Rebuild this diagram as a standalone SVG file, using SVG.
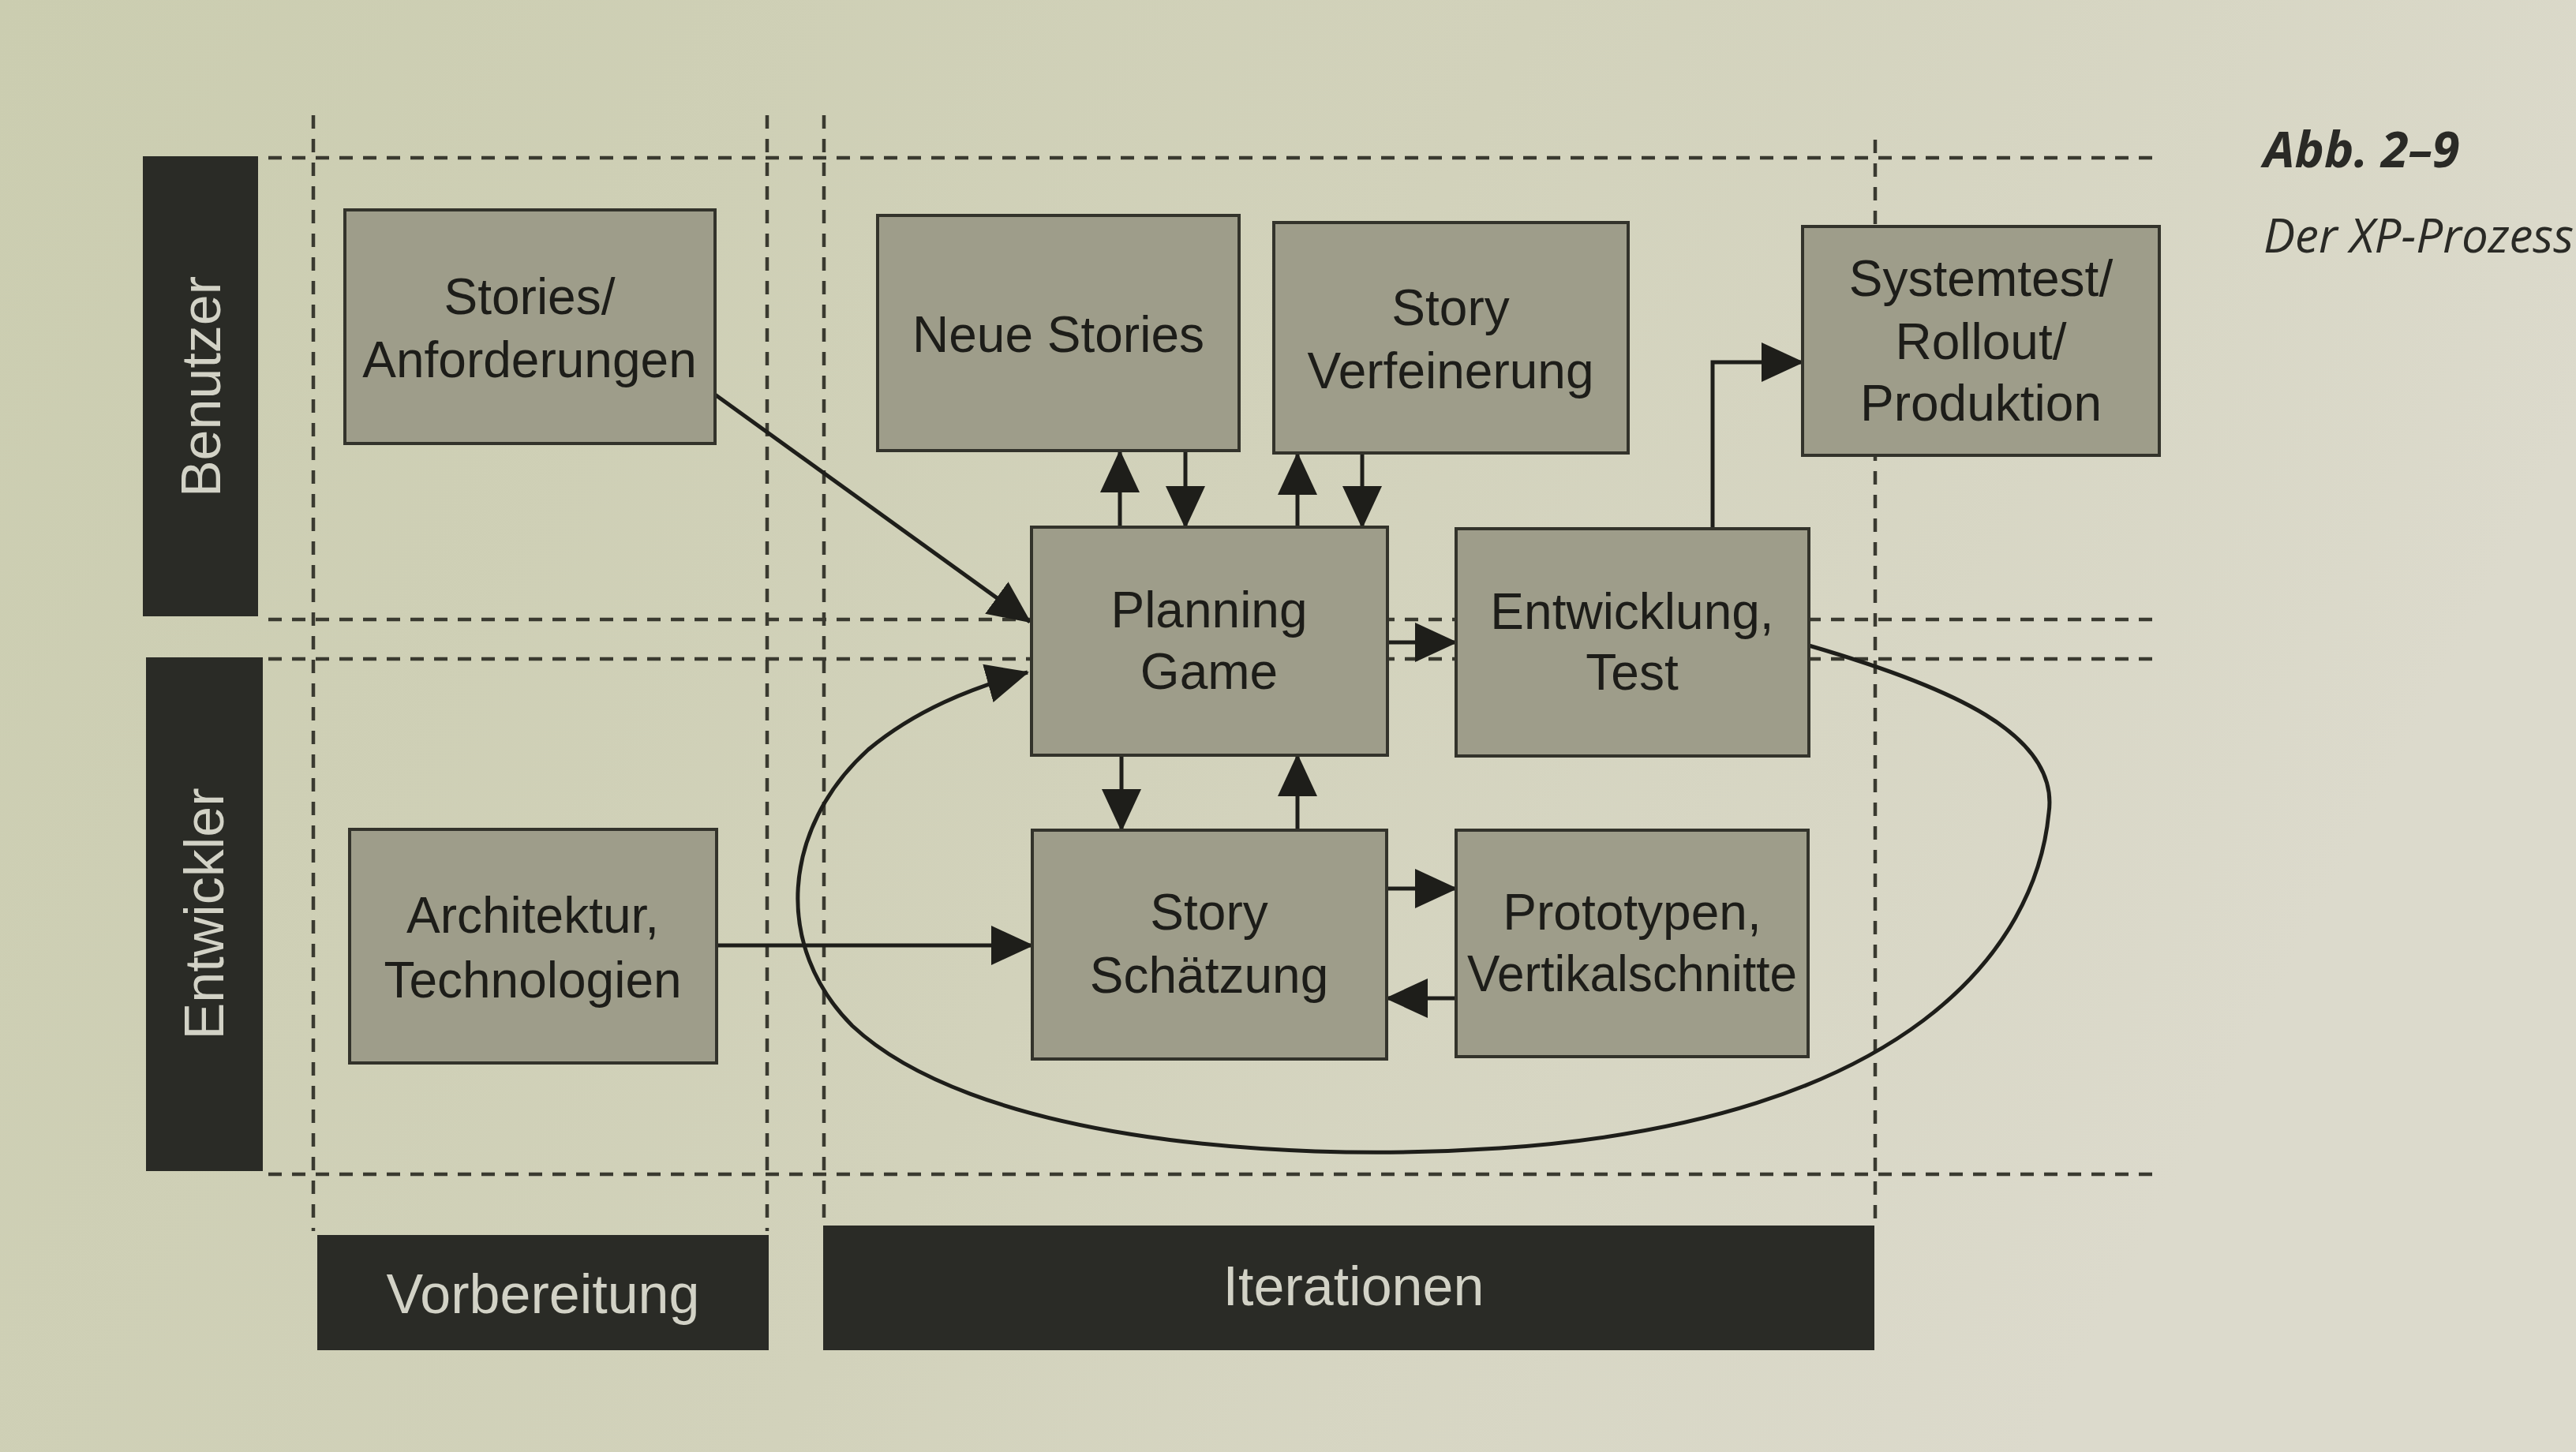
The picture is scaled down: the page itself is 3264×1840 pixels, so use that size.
<svg xmlns="http://www.w3.org/2000/svg" width="3264" height="1840" viewBox="0 0 3264 1840">
<defs>
<linearGradient id="bg" x1="0" y1="0" x2="1" y2="0.3">
<stop offset="0" stop-color="#cbcdb0"/>
<stop offset="0.55" stop-color="#d2d2bb"/>
<stop offset="1" stop-color="#dcdacc"/>
</linearGradient>
<marker id="ah" markerUnits="userSpaceOnUse" markerWidth="54" markerHeight="50" refX="52" refY="25" orient="auto">
<path d="M0,0 L54,25 L0,50 z" fill="#1e1e1a"/>
</marker>
<style>
.grid{stroke:#3a3a30;stroke-width:4.5;stroke-dasharray:17 13;fill:none}
.box{fill:#9e9d8a;stroke:#33332b;stroke-width:4}
.bar{fill:#2a2b26}
.t{font-family:"Liberation Sans",Arial,sans-serif;font-size:64px;fill:#1d1d19;text-anchor:middle}
.bt{font-family:"Liberation Sans",Arial,sans-serif;font-size:70px;fill:#d2d2c6;text-anchor:middle}
.c{stroke:#1e1e1a;stroke-width:5;fill:none;marker-end:url(#ah)}
.cap{font-family:"Open Sans","Liberation Sans",sans-serif;font-style:italic;fill:#2a2a26}
</style>
</defs>
<rect width="3264" height="1840" fill="url(#bg)"/>

<g id="grid">
<line class="grid" x1="340" y1="200" x2="2740" y2="200"/>
<line class="grid" x1="340" y1="785" x2="2740" y2="785"/>
<line class="grid" x1="340" y1="835" x2="2740" y2="835"/>
<line class="grid" x1="340" y1="1488" x2="2740" y2="1488"/>
<line class="grid" x1="397" y1="146" x2="397" y2="1560"/>
<line class="grid" x1="972" y1="146" x2="972" y2="1560"/>
<line class="grid" x1="1044" y1="146" x2="1044" y2="1550"/>
<line class="grid" x1="2376" y1="177" x2="2376" y2="1550"/>
</g>

<g id="lane-benutzer">
<rect class="bar" x="181" y="198" width="146" height="583"/>
<text class="bt" transform="translate(279,490) rotate(-90)">Benutzer</text>
</g>
<g id="lane-entwickler">
<rect class="bar" x="185" y="833" width="148" height="651"/>
<text class="bt" transform="translate(283,1158) rotate(-90)">Entwickler</text>
</g>
<g id="phase-vorbereitung">
<rect class="bar" x="402" y="1565" width="572" height="146"/>
<text class="bt" x="688" y="1664">Vorbereitung</text>
</g>
<g id="phase-iterationen">
<rect class="bar" x="1043" y="1553" width="1332" height="158"/>
<text class="bt" x="1715" y="1654">Iterationen</text>
</g>

<g id="connectors">
<line class="c" x1="906" y1="500" x2="1305" y2="788"/>
<line class="c" x1="1419" y1="668" x2="1419" y2="572"/>
<line class="c" x1="1502" y1="572" x2="1502" y2="668"/>
<line class="c" x1="1644" y1="668" x2="1644" y2="575"/>
<line class="c" x1="1726" y1="575" x2="1726" y2="668"/>
<line class="c" x1="1421" y1="957" x2="1421" y2="1052"/>
<line class="c" x1="1644" y1="1052" x2="1644" y2="957"/>
<line class="c" x1="1758" y1="814" x2="1845" y2="814"/>
<line class="c" x1="1757" y1="1126" x2="1845" y2="1126"/>
<line class="c" x1="1845" y1="1265" x2="1757" y2="1265"/>
<line class="c" x1="908" y1="1198" x2="1308" y2="1198"/>
<path class="c" d="M2170,670 V459 H2284"/>
<path class="c" d="M2292,818 C2470,870 2610,930 2596,1030 C2580,1200 2420,1420 1900,1455 C1600,1475 1230,1440 1080,1300 C980,1200 990,1050 1100,950 C1160,900 1230,872 1302,852"/>
</g>

<g id="stories">
<rect class="box" x="437" y="266" width="469" height="296"/>
<text class="t" x="671" y="398">Stories/</text>
<text class="t" x="671" y="478">Anforderungen</text>
</g>
<g id="neue-stories">
<rect class="box" x="1112" y="273" width="458" height="298"/>
<text class="t" x="1341" y="446">Neue Stories</text>
</g>
<g id="story-verfeinerung">
<rect class="box" x="1614" y="282" width="449" height="292"/>
<text class="t" x="1838" y="412">Story</text>
<text class="t" x="1838" y="492">Verfeinerung</text>
</g>
<g id="systemtest">
<rect class="box" x="2284" y="287" width="452" height="290"/>
<text class="t" x="2510" y="375">Systemtest/</text>
<text class="t" x="2510" y="455">Rollout/</text>
<text class="t" x="2510" y="533">Produktion</text>
</g>
<g id="planning-game">
<rect class="box" x="1307" y="668" width="451" height="289"/>
<text class="t" x="1532" y="795">Planning</text>
<text class="t" x="1532" y="873">Game</text>
</g>
<g id="entwicklung-test">
<rect class="box" x="1845" y="670" width="447" height="288"/>
<text class="t" x="2068" y="797">Entwicklung,</text>
<text class="t" x="2068" y="874">Test</text>
</g>
<g id="architektur">
<rect class="box" x="443" y="1051" width="465" height="296"/>
<text class="t" x="675" y="1182">Architektur,</text>
<text class="t" x="675" y="1264">Technologien</text>
</g>
<g id="story-schaetzung">
<rect class="box" x="1308" y="1052" width="449" height="290"/>
<text class="t" x="1532" y="1178">Story</text>
<text class="t" x="1532" y="1258">Schätzung</text>
</g>
<g id="prototypen">
<rect class="box" x="1845" y="1052" width="446" height="287"/>
<text class="t" x="2068" y="1178">Prototypen,</text>
<text class="t" x="2068" y="1256" textLength="418" lengthAdjust="spacingAndGlyphs">Vertikalschnitte</text>
</g>

<g id="caption">
<text class="cap" x="2868" y="212" font-size="63" font-weight="bold">Abb. 2–9</text>
<text class="cap" x="2868" y="320" font-size="60">Der XP-Prozess</text>
</g>
</svg>
